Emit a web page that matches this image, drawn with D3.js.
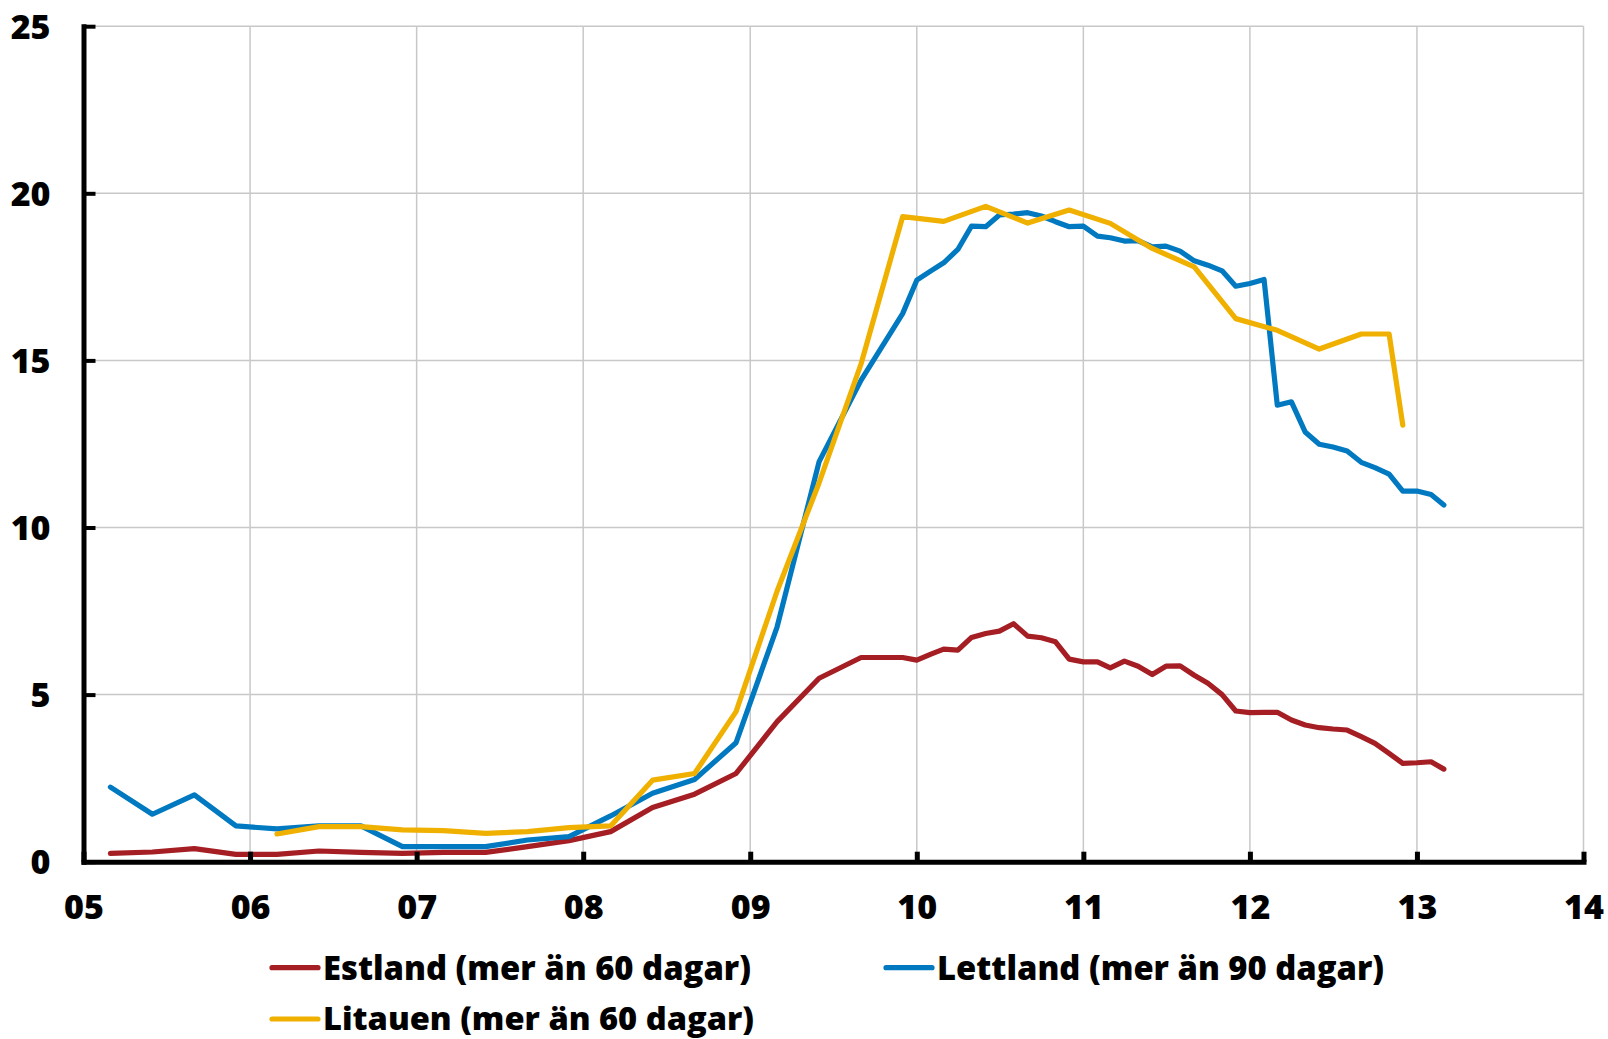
<!DOCTYPE html>
<html><head><meta charset="utf-8">
<script src="https://cdn.jsdelivr.net/npm/d3@7"></script>
<style>
html,body{margin:0;padding:0;background:#fff;}
svg{display:block;}
text{font-family:"Open Sans","Noto Sans",sans-serif;font-weight:800;fill:#000;}
</style></head><body>
<svg id="chart" width="1608" height="1039"></svg>
<script>
// ---------- data ----------
const balticDates = [
  "2005-03","2005-06","2005-09","2005-12",
  "2006-03","2006-06","2006-09","2006-12",
  "2007-03","2007-06","2007-09","2007-12",
  "2008-03","2008-06","2008-09","2008-12",
  "2009-03","2009-06","2009-09","2009-12",
  "2010-01","2010-02","2010-03","2010-04","2010-05","2010-06","2010-07","2010-08","2010-09","2010-10","2010-11","2010-12",
  "2011-01","2011-02","2011-03","2011-04","2011-05","2011-06","2011-07","2011-08","2011-09","2011-10","2011-11","2011-12",
  "2012-01","2012-02","2012-03","2012-04","2012-05","2012-06","2012-07","2012-08","2012-09","2012-10","2012-11","2012-12",
  "2013-01","2013-02","2013-03"
];
const estlandValues = [
  0.25,0.29,0.39,0.22, 0.22,0.32,0.28,0.25, 0.28,0.28,0.45,0.63, 0.90,1.62,2.02,2.64, 4.19,5.49,6.11,6.11,
  6.03,6.21,6.36,6.33,6.71,6.83,6.90,7.12,6.75,6.70,6.58,6.06,
  5.98,5.98,5.80,6.00,5.85,5.60,5.85,5.86,5.58,5.34,5.00,4.51,
  4.46,4.47,4.47,4.24,4.09,4.01,3.97,3.94,3.74,3.54,3.24,2.94,
  2.96,2.99,2.77
];
const lettlandValues = [
  2.23,1.42,2.00,1.07, 0.98,1.07,1.07,0.45, 0.45,0.45,0.65,0.75, 1.37,2.05,2.46,3.56, 7.03,11.97,14.41,16.40,
  17.40,17.68,17.92,18.32,19.02,19.00,19.35,19.38,19.42,19.32,19.15,19.00,
  19.02,18.72,18.67,18.57,18.58,18.40,18.42,18.27,17.98,17.85,17.68,17.22,
  17.30,17.42,13.66,13.76,12.86,12.49,12.41,12.29,11.95,11.79,11.60,11.09,
  11.09,10.99,10.67
];
const litauenDates = [
  "2006-03","2006-06","2006-09","2006-12",
  "2007-03","2007-06","2007-09","2007-12",
  "2008-03","2008-06","2008-09","2008-12",
  "2009-03","2009-06","2009-09","2009-12",
  "2010-03","2010-06","2010-09","2010-12",
  "2011-03","2011-06","2011-09","2011-12",
  "2012-03","2012-06","2012-09","2012-11","2012-12"
];
const litauenValues = [
  0.83,1.05,1.05,0.95, 0.93,0.85,0.90,1.02, 1.07,2.44,2.64,4.49, 8.10,11.34,14.90,19.30,
  19.16,19.61,19.11,19.50, 19.10,18.35,17.80,16.25, 15.90,15.34,15.79,15.79,13.06
];
const seriesNames = ["Estland (mer än 60 dagar)","Lettland (mer än 90 dagar)","Litauen (mer än 60 dagar)"];
const seriesColors = ["#a51e24","#0079c1","#f0b000"];
const yTickValues = [0,5,10,15,20,25];
const xTickYears = ["2005","2006","2007","2008","2009","2010","2011","2012","2013","2014"];

// ---------- setup ----------
const parseMonth = d3.timeParse("%Y-%m");
const parseYear = d3.timeParse("%Y");
const svg = d3.select("#chart");
const FONT = '"Open Sans","Noto Sans",sans-serif';

const x = d3.scaleTime()
  .domain([parseYear("2005"), parseYear("2014")])
  .range([83.5, 1583.5]);
const y = d3.scaleLinear().domain([0, 25]).range([861.7, 26.2]);

const xTicks = xTickYears.map(parseYear);

// gridlines
const grid = svg.append("g").attr("stroke","#c8c8c8").attr("stroke-width",1.5);
grid.selectAll("line.h").data(yTickValues.filter(v => v > 0)).join("line")
  .attr("x1", x.range()[0]).attr("x2", x.range()[1])
  .attr("y1", d => y(d)).attr("y2", d => y(d));
grid.selectAll("line.v").data(xTicks.slice(1)).join("line")
  .attr("x1", d => x(d)).attr("x2", d => x(d))
  .attr("y1", y(25)).attr("y2", y(0));

// series
const series = [
  {name: seriesNames[0], color: seriesColors[0], dates: balticDates, values: estlandValues},
  {name: seriesNames[1], color: seriesColors[1], dates: balticDates, values: lettlandValues},
  {name: seriesNames[2], color: seriesColors[2], dates: litauenDates, values: litauenValues}
];
const line = d3.line().x(d => x(d[0])).y(d => y(d[1]));
svg.append("g").selectAll("path").data(series).join("path")
  .attr("fill","none")
  .attr("stroke", d => d.color)
  .attr("stroke-width", 5.2)
  .attr("stroke-linejoin","round")
  .attr("stroke-linecap","round")
  .attr("d", d => line(d.dates.map((m, i) => [parseMonth(m), d.values[i]])));

// y axis
const yAxis = svg.append("g").attr("transform", `translate(${x.range()[0]},0)`)
  .call(d3.axisLeft(y).tickValues(yTickValues).tickSizeInner(-12).tickSizeOuter(0).tickPadding(33).tickFormat(d3.format("d")));
yAxis.select(".domain").attr("stroke","#000").attr("stroke-width",5).attr("stroke-linecap","square");
yAxis.selectAll(".tick line").attr("stroke","#000").attr("stroke-width",4);
yAxis.selectAll(".tick text").attr("font-size",34).attr("dy","0.36em").attr("fill","#000")
  .style("font-family",FONT).style("font-weight",800);

// x axis
const xAxis = svg.append("g").attr("transform", `translate(0,${y(0)})`)
  .call(d3.axisBottom(x).tickValues(xTicks).tickSizeInner(-10).tickSizeOuter(0).tickPadding(33).tickFormat(d3.timeFormat("%y")));
xAxis.select(".domain").attr("stroke","#000").attr("stroke-width",5).attr("stroke-linecap","square");
xAxis.selectAll(".tick line").attr("stroke","#000").attr("stroke-width",5);
xAxis.selectAll(".tick text").attr("font-size",34).attr("dy","0.71em").attr("fill","#000")
  .style("font-family",FONT).style("font-weight",800);
yAxis.attr("font-size",34); xAxis.attr("font-size",34);

// legend
const legendLayout = [
  {x: 272, y: 967.7, w: 428, base: 11.8, fs: 34},
  {x: 886, y: 967.7, w: 447, base: 11.8, fs: 34},
  {x: 272, y: 1019, w: 431, base: 10.5, fs: 32}
];
const legend = svg.append("g");
series.forEach((s, i) => {
  const L = legendLayout[i];
  const g = legend.append("g").attr("transform", `translate(${L.x},${L.y})`);
  g.append("line").attr("x1",0).attr("x2",46).attr("y1",0).attr("y2",0)
    .attr("stroke", s.color).attr("stroke-width",5.2).attr("stroke-linecap","round");
  g.append("text").attr("x",51).attr("y",L.base).attr("font-size",L.fs)
    .style("font-family",FONT).style("font-weight",800)
    .attr("textLength", L.w).attr("lengthAdjust","spacingAndGlyphs")
    .text(s.name);
});
</script>
</body></html>
